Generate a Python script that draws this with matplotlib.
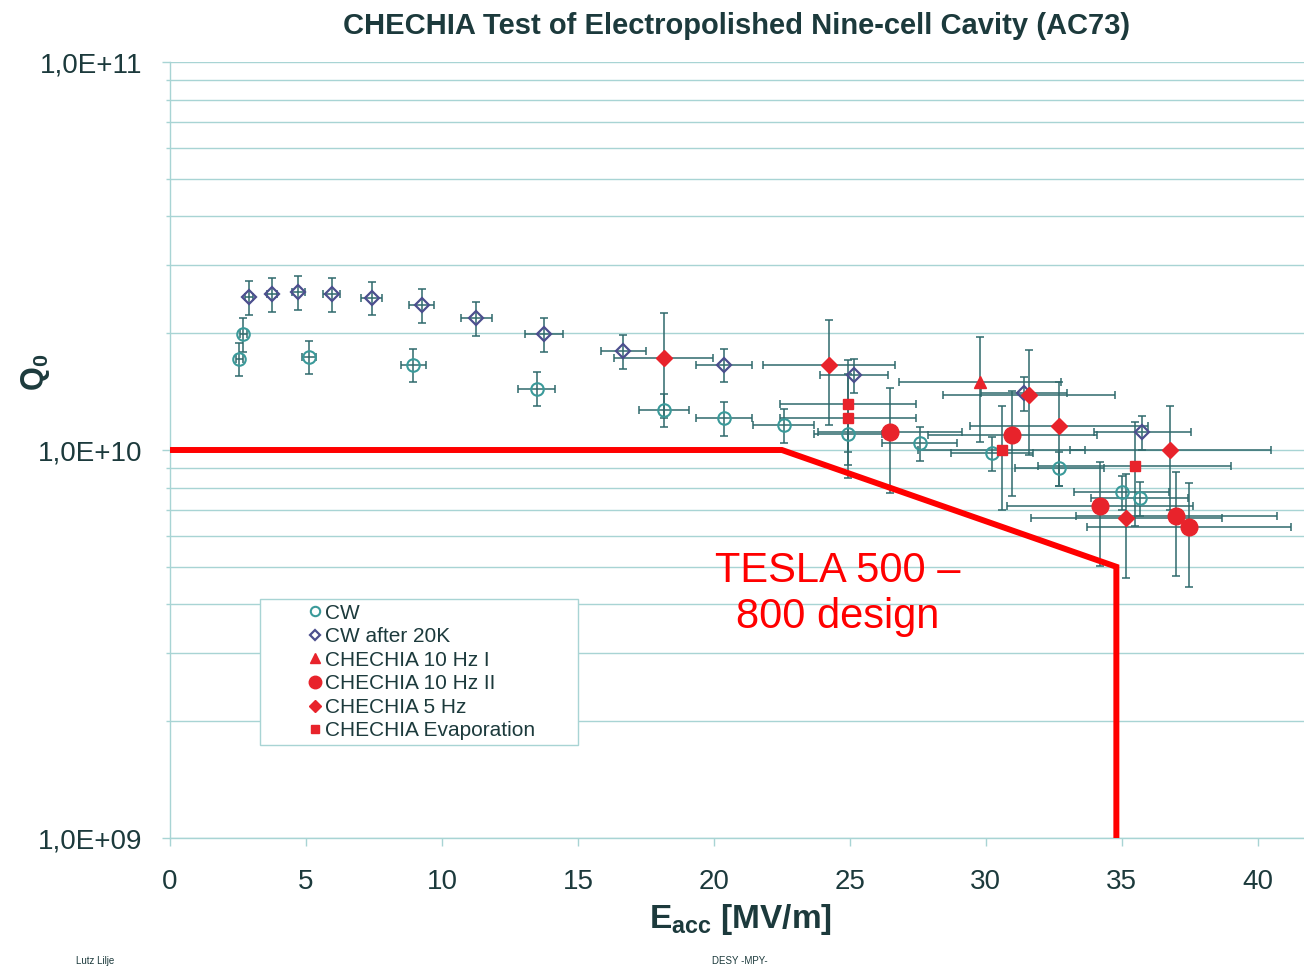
import numpy as np
import matplotlib
matplotlib.use("Agg")
import matplotlib.pyplot as plt
from matplotlib.lines import Line2D
from matplotlib.ticker import FixedLocator, FuncFormatter, NullFormatter

# ==========================================
# data: Q0 vs Eacc, AC73 nine-cell cavity
# ==========================================
cw_e = [2.54, 2.70, 5.11, 8.95, 13.48, 18.16, 20.37, 22.57, 24.94, 27.57, 30.24, 32.70, 34.99, 35.66]
cw_q = [1.72e10, 1.99e10, 1.74e10, 1.66e10, 1.44e10, 1.27e10, 1.21e10, 1.16e10, 1.10e10, 1.04e10,
        9.8e9, 9.0e9, 7.8e9, 7.5e9]

cw20k_e = [2.92, 3.74, 4.72, 5.94, 7.41, 9.25, 11.27, 13.76, 16.67, 20.37, 25.15, 31.40, 35.76]
cw20k_q = [2.48e10, 2.52e10, 2.55e10, 2.52e10, 2.47e10, 2.36e10, 2.19e10, 1.99e10, 1.80e10,
           1.66e10, 1.56e10, 1.40e10, 1.11e10]

hz10a_e = [29.78]
hz10a_q = [1.50e10]

hz10b_e = [26.47, 30.98, 34.19, 37.00, 37.47]
hz10b_q = [1.11e10, 1.09e10, 7.16e9, 6.75e9, 6.32e9]

hz5_e = [18.16, 24.24, 31.59, 32.69, 36.79, 35.17]
hz5_q = [1.73e10, 1.66e10, 1.39e10, 1.155e10, 1.0e10, 6.67e9]

evap_e = [24.94, 24.94, 30.58, 35.48]
evap_q = [1.31e10, 1.21e10, 1.0e10, 9.1e9]

# relative errors (CW measurements / CHECHIA pulsed measurements)
cw_err_e, cw_err_q = 0.05, 0.10
pulse_err_e, pulse_err_q = 0.10, 0.30

# TESLA 500-800 design goal
design_e = [0, 22.5, 34.8, 34.8]
design_q = [1.0e10, 1.0e10, 5.0e9, 1.0e9]

labels = ["CW", "CW after 20K", "CHECHIA 10 Hz I", "CHECHIA 10 Hz II",
          "CHECHIA 5 Hz", "CHECHIA Evaporation"]

# ==========================================
# style
# ==========================================
plt.rcParams['font.family'] = ['Liberation Sans', 'DejaVu Sans']
plt.rcParams['mathtext.fontset'] = 'custom'
plt.rcParams['mathtext.rm'] = 'Liberation Sans'
plt.rcParams['mathtext.bf'] = 'Liberation Sans:bold'

txt_col = '#1c3a3c'
grid_col = '#a8d4d4'
bar_col = '#2f6a6c'
teal = '#3a9a9a'
blue = '#4c4f8e'
red = '#e8232b'

fig = plt.figure(figsize=(13.04, 9.69), dpi=100)
ax = fig.add_axes([170 / 1304, 1 - 838 / 969, 1 - 170 / 1304, (838 - 62) / 969])


def plot_series(e, q, rel_e, rel_q, **kw):
    e = np.array(e)
    q = np.array(q)
    ax.errorbar(e, q, xerr=e * rel_e, yerr=q * rel_q, fmt='none', ecolor=bar_col,
                elinewidth=1.1, capsize=3, capthick=1.1, zorder=3)
    ax.plot(e, q, linestyle='none', zorder=4, **kw)


series = [
    (cw_e, cw_q, cw_err_e, cw_err_q, dict(marker='o', ms=9, mfc='none', mec=teal, mew=1.5)),
    (cw20k_e, cw20k_q, cw_err_e, cw_err_q, dict(marker='D', ms=7, mfc='none', mec=blue, mew=1.6)),
    (hz10a_e, hz10a_q, pulse_err_e, pulse_err_q, dict(marker='^', ms=9, mfc=red, mec=red)),
    (hz10b_e, hz10b_q, pulse_err_e, pulse_err_q, dict(marker='o', ms=12, mfc=red, mec=red)),
    (hz5_e, hz5_q, pulse_err_e, pulse_err_q, dict(marker='D', ms=8, mfc=red, mec=red)),
    (evap_e, evap_q, pulse_err_e, pulse_err_q, dict(marker='s', ms=7, mfc=red, mec=red)),
]
for e, q, re_, rq, kw in series:
    plot_series(e, q, re_, rq, **kw)

ax.plot(design_e, design_q, color='#ff0000', linewidth=4.3, solid_joinstyle='miter', zorder=5)
ax.text(24.56, 4.25e9, "TESLA 500 \u2013\n800 design", color='#ff0000', fontsize=30,
        ha='center', va='center', multialignment='center', linespacing=1.2, zorder=6)

# ==========================================
# axes
# ==========================================
ax.set_yscale('log')
ax.set_ylim(1e9, 1e11)
ax.set_xlim(0, 41.7)
ax.set_xticks(np.arange(0, 41, 5))
ax.yaxis.set_major_locator(FixedLocator([1e9, 1e10, 1e11]))
ax.yaxis.set_minor_locator(FixedLocator([m * 10.0 ** k for k in (9, 10) for m in range(2, 10)]))
ax.yaxis.set_major_formatter(FuncFormatter(lambda v, p: "1,0E+%02d" % int(round(np.log10(v)))))
ax.yaxis.set_minor_formatter(NullFormatter())

ax.grid(True, axis='y', which='both', color=grid_col, linewidth=1.0)
ax.set_axisbelow(True)
for s in ['top', 'right']:
    ax.spines[s].set_visible(False)
for s in ['left', 'bottom']:
    ax.spines[s].set_color(grid_col)
    ax.spines[s].set_linewidth(1.0)

ax.tick_params(axis='both', which='major', colors=grid_col, labelcolor=txt_col,
               labelsize=20, length=6, width=1.0)
ax.tick_params(axis='y', which='major', pad=14)
ax.tick_params(axis='x', which='major', pad=16)
ax.tick_params(axis='y', which='minor', colors=grid_col, length=3, width=1.0)

ax.set_title("CHECHIA Test of Electropolished Nine-cell Cavity (AC73)", fontsize=21,
             fontweight='bold', color=txt_col, pad=20)
ax.set_xlabel(r"$\mathbf{E_{acc}}$ [MV/m]", fontsize=24, fontweight='bold', color=txt_col)
ax.xaxis.set_label_coords(0.503, -0.082)
ax.set_ylabel(r"$\mathbf{Q_0}$", fontsize=22, fontweight='bold', color=txt_col)
ax.yaxis.set_label_coords(-0.104, 0.60)

# legend with marker-only handles
handles = [Line2D([], [], linestyle='none', **kw) for *_, kw in series]
leg = ax.legend(handles, labels, loc='lower left', mode='expand',
                bbox_to_anchor=(0.0794, 0.1198, 0.2804, 0.187), borderaxespad=0,
                fontsize=15, frameon=True, fancybox=False, edgecolor=grid_col, framealpha=1,
                borderpad=0.22, labelspacing=0.22, handlelength=4.8, handletextpad=-1.88,
                markerscale=0.75, numpoints=1)
leg.get_frame().set_linewidth(1.0)
for t in leg.get_texts():
    t.set_color(txt_col)

# footer
fig.text(95 / 1304, 1 - 961 / 969, "Lutz Lilje", fontsize=7, color=txt_col, ha='center', va='center')
fig.text(740 / 1304, 1 - 961 / 969, "DESY -MPY-", fontsize=7, color=txt_col, ha='center', va='center')

fig.savefig("out.png", dpi=100)
